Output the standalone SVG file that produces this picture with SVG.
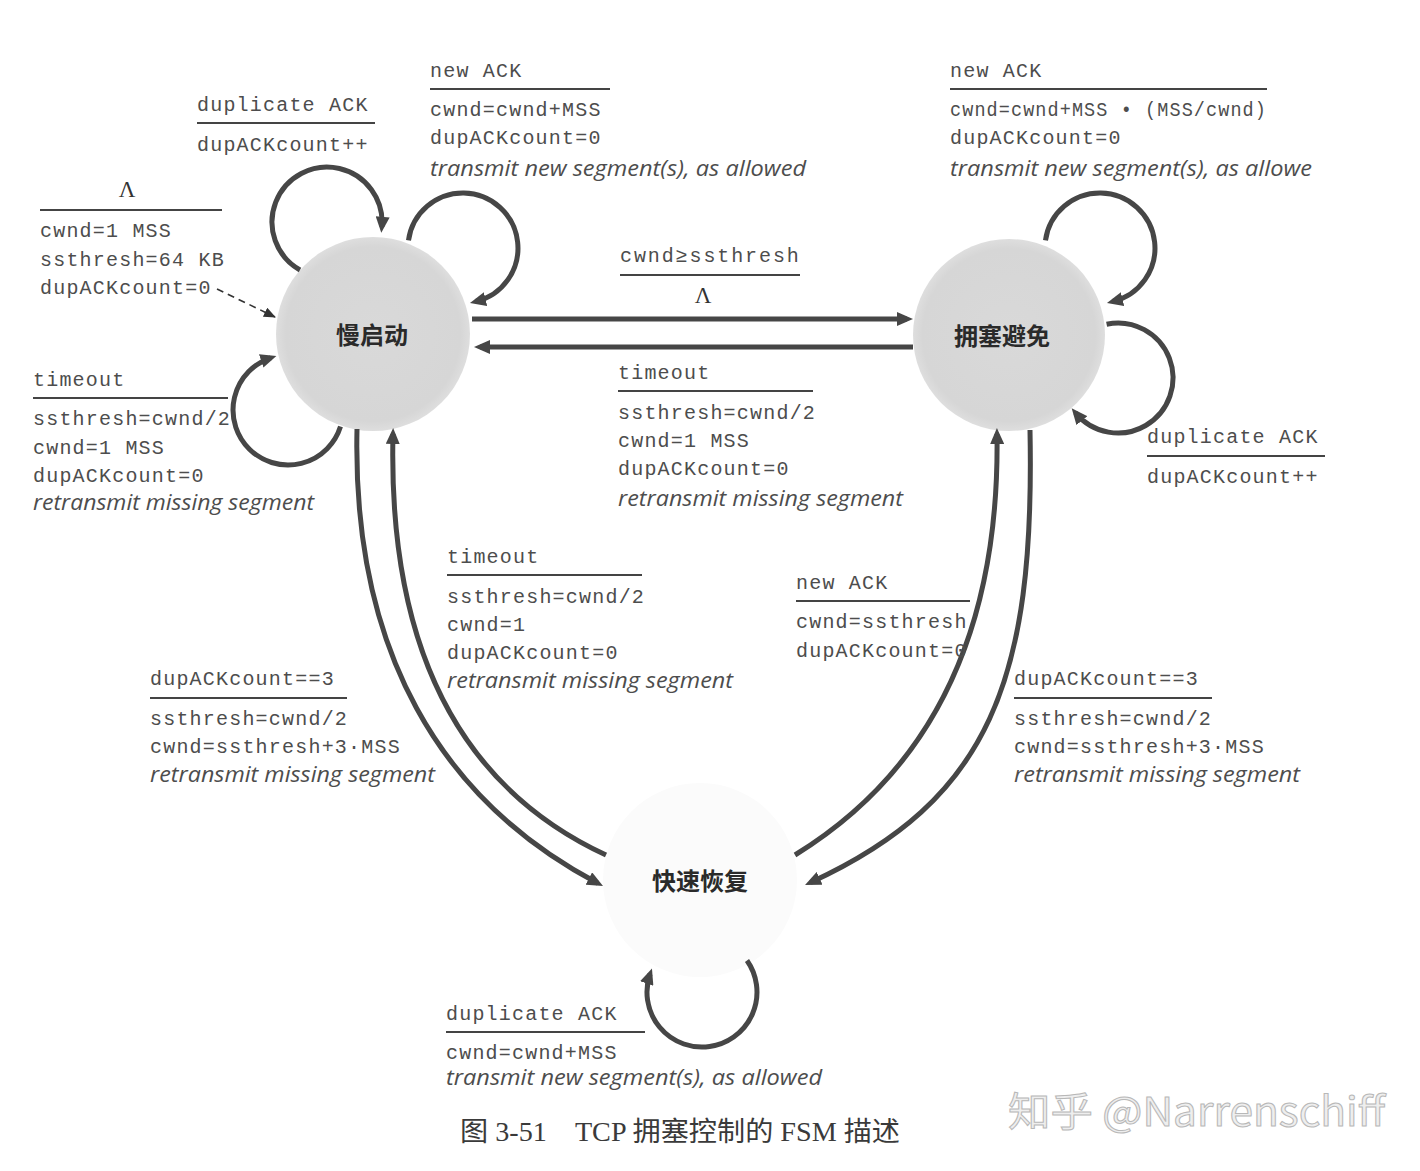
<svg xmlns="http://www.w3.org/2000/svg" width="1420" height="1171" viewBox="0 0 1420 1171">
<style>
.m{font-family:"Liberation Mono","DejaVu Sans Mono",monospace;font-size:20px;letter-spacing:1.2px;fill:#4d4d4d}
.i{font-family:"Open Sans","Noto Sans",sans-serif;font-style:italic;font-size:21px;fill:#4d4d4d}
.l{font-family:"Liberation Serif",serif;font-size:23px;fill:#333}
.r{stroke:#444;stroke-width:2}
.st{font-family:"Noto Sans CJK SC",sans-serif;font-weight:700;font-size:24px;fill:#2a2a2a;text-anchor:middle}
.c{fill:none;stroke:#464646;stroke-width:5;marker-end:url(#ah)}
</style>
<defs>
<marker id="ah" markerUnits="userSpaceOnUse" viewBox="0 0 16 14" markerWidth="16" markerHeight="14" refX="10" refY="7" orient="auto"><path d="M0,0 L16,7 L0,14 z" fill="#464646"/></marker>
<marker id="ahs" markerUnits="userSpaceOnUse" viewBox="0 0 12 10" markerWidth="12" markerHeight="10" refX="11" refY="5" orient="auto"><path d="M0,0 L12,5 L0,10 z" fill="#333"/></marker>
<radialGradient id="g" cx="50%" cy="50%" r="50%"><stop offset="0" stop-color="#d9d9d9"/><stop offset="0.9" stop-color="#d6d6d6"/><stop offset="1" stop-color="#dedede"/></radialGradient>
</defs>
<rect width="1420" height="1171" fill="#ffffff"/>

<g id="node-slowstart"><circle cx="373" cy="334" r="97" fill="url(#g)"/><text class="st" x="372" y="344">慢启动</text></g>
<g id="node-congavoid"><circle cx="1009" cy="335" r="96" fill="url(#g)"/><text class="st" x="1002" y="345" font-size="25">拥塞避免</text></g>
<g id="node-fastrecovery"><circle cx="700" cy="880" r="97" fill="#fbfbfb"/><text class="st" x="700" y="890">快速恢复</text></g>

<g id="connectors">
<path d="M217 289 L275 317" fill="none" stroke="#333" stroke-width="1.6" stroke-dasharray="7 5" marker-end="url(#ahs)"/>
<path class="c" d="M300 270 A55 55 0 1 1 381.8 226.8"/>
<path class="c" d="M408.5 240.3 A55 55 0 1 1 475.8 301.5"/>
<path class="c" d="M340.5 426.5 A55 55 0 1 1 270.7 357.8"/>
<path class="c" d="M1045.5 240.3 A55 55 0 1 1 1112.8 301.5"/>
<path class="c" d="M1106.6 324.2 A55 55 0 1 1 1075.5 412.9"/>
<path class="c" d="M747 960.5 A55 55 0 1 1 650 974.1"/>
<path class="c" stroke-width="5.5" d="M472 319 L907 319"/>
<path class="c" stroke-width="5.5" d="M913 347 L480 347"/>
<path class="c" d="M357 429 C352 650 440 800 597.7 883.2"/>
<path class="c" d="M606 855 C455 785 388 640 393 434"/>
<path class="c" d="M795 855 C925 775 1000 640 997 434"/>
<path class="c" d="M1030 430 C1035 680 990 800 810.5 882.5"/>
</g>

<g id="lbl-init">
<text class="l" x="127" y="197" text-anchor="middle">Λ</text>
<line class="r" x1="40" y1="210" x2="222" y2="210"/>
<text class="m" x="40" y="237">cwnd=1 MSS</text>
<text class="m" x="40" y="266">ssthresh=64 KB</text>
<text class="m" x="40" y="294">dupACKcount=0</text>
</g>
<g id="lbl-ss-dup">
<text class="m" x="197" y="111">duplicate ACK</text>
<line class="r" x1="197" y1="123" x2="375" y2="123"/>
<text class="m" x="197" y="151">dupACKcount++</text>
</g>
<g id="lbl-ss-new">
<text class="m" x="430" y="77">new ACK</text>
<line class="r" x1="430" y1="89" x2="610" y2="89"/>
<text class="m" x="430" y="116">cwnd=cwnd+MSS</text>
<text class="m" x="430" y="144">dupACKcount=0</text>
<text class="i" x="430" y="176" textLength="376" lengthAdjust="spacingAndGlyphs">transmit new segment(s), as allowed</text>
</g>
<g id="lbl-ss-ca">
<text class="m" x="620" y="262" textLength="180" lengthAdjust="spacing">cwnd≥ssthresh</text>
<line class="r" x1="620" y1="275" x2="800" y2="275"/>
<text class="l" x="703" y="303" text-anchor="middle">Λ</text>
</g>
<g id="lbl-ss-timeout">
<text class="m" x="33" y="386">timeout</text>
<line class="r" x1="33" y1="398" x2="228" y2="398"/>
<text class="m" x="33" y="425">ssthresh=cwnd/2</text>
<text class="m" x="33" y="454">cwnd=1 MSS</text>
<text class="m" x="33" y="482">dupACKcount=0</text>
<text class="i" x="33" y="510" textLength="281" lengthAdjust="spacingAndGlyphs">retransmit missing segment</text>
</g>
<g id="lbl-ca-timeout">
<text class="m" x="618" y="379">timeout</text>
<line class="r" x1="618" y1="391" x2="813" y2="391"/>
<text class="m" x="618" y="419">ssthresh=cwnd/2</text>
<text class="m" x="618" y="447">cwnd=1 MSS</text>
<text class="m" x="618" y="475">dupACKcount=0</text>
<text class="i" x="618" y="506" textLength="285" lengthAdjust="spacingAndGlyphs">retransmit missing segment</text>
</g>
<g id="lbl-ca-new">
<text class="m" x="950" y="77">new ACK</text>
<line class="r" x1="950" y1="89" x2="1267" y2="89"/>
<text class="m" x="950" y="116" textLength="317" lengthAdjust="spacingAndGlyphs">cwnd=cwnd+MSS • (MSS/cwnd)</text>
<text class="m" x="950" y="144">dupACKcount=0</text>
<text class="i" x="950" y="176" textLength="362" lengthAdjust="spacingAndGlyphs">transmit new segment(s), as allowe</text>
</g>
<g id="lbl-ca-dup">
<text class="m" x="1147" y="443">duplicate ACK</text>
<line class="r" x1="1147" y1="456" x2="1325" y2="456"/>
<text class="m" x="1147" y="483">dupACKcount++</text>
</g>
<g id="lbl-fr-timeout">
<text class="m" x="447" y="563">timeout</text>
<line class="r" x1="447" y1="575" x2="642" y2="575"/>
<text class="m" x="447" y="603">ssthresh=cwnd/2</text>
<text class="m" x="447" y="631">cwnd=1</text>
<text class="m" x="447" y="659">dupACKcount=0</text>
<text class="i" x="447" y="688" textLength="286" lengthAdjust="spacingAndGlyphs">retransmit missing segment</text>
</g>
<g id="lbl-fr-new">
<text class="m" x="796" y="589">new ACK</text>
<line class="r" x1="796" y1="601" x2="970" y2="601"/>
<text class="m" x="796" y="628">cwnd=ssthresh</text>
<text class="m" x="796" y="657">dupACKcount=0</text>
</g>
<g id="lbl-ss-fr">
<text class="m" x="150" y="685">dupACKcount==3</text>
<line class="r" x1="150" y1="698" x2="347" y2="698"/>
<text class="m" x="150" y="725">ssthresh=cwnd/2</text>
<text class="m" x="150" y="753">cwnd=ssthresh+3·MSS</text>
<text class="i" x="150" y="782" textLength="285" lengthAdjust="spacingAndGlyphs">retransmit missing segment</text>
</g>
<g id="lbl-ca-fr">
<text class="m" x="1014" y="685">dupACKcount==3</text>
<line class="r" x1="1014" y1="698" x2="1212" y2="698"/>
<text class="m" x="1014" y="725">ssthresh=cwnd/2</text>
<text class="m" x="1014" y="753">cwnd=ssthresh+3·MSS</text>
<text class="i" x="1014" y="782" textLength="286" lengthAdjust="spacingAndGlyphs">retransmit missing segment</text>
</g>
<g id="lbl-fr-dup">
<text class="m" x="446" y="1020">duplicate ACK</text>
<line class="r" x1="446" y1="1032" x2="645" y2="1032"/>
<text class="m" x="446" y="1059">cwnd=cwnd+MSS</text>
<text class="i" x="446" y="1085" textLength="376" lengthAdjust="spacingAndGlyphs">transmit new segment(s), as allowed</text>
</g>

<text x="460" y="1141" font-family="'Liberation Serif','Noto Sans CJK SC',serif" font-size="27" fill="#3a3a3a" textLength="440" lengthAdjust="spacingAndGlyphs">图 3-51　TCP 拥塞控制的 FSM 描述</text>
<text x="1008" y="1126" font-family="'Noto Sans CJK SC','Noto Sans',sans-serif" font-size="40" fill="#eeeeee" stroke="#b8b8b8" stroke-width="1" textLength="377" lengthAdjust="spacingAndGlyphs">知乎 @Narrenschiff</text>
</svg>
